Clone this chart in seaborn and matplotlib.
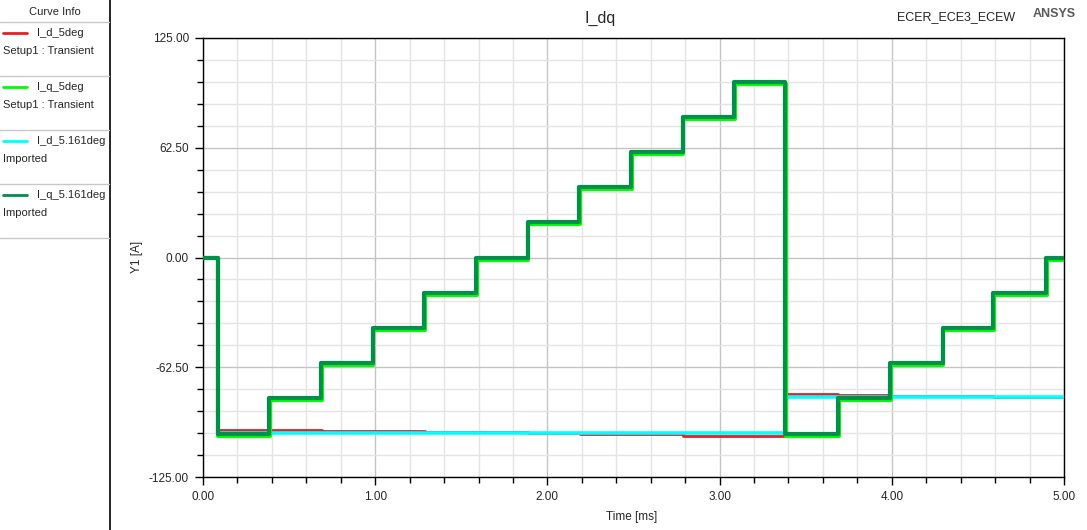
import matplotlib
matplotlib.use("Agg")
import matplotlib.pyplot as plt
from matplotlib.lines import Line2D
from matplotlib.ticker import MultipleLocator, FormatStrFormatter
import seaborn as sns
import pandas as pd

# ---------------- data (step breakpoints, steps-post) ----------------
t_iq_161 = [0.0, 0.085, 0.385, 0.685, 0.985, 1.285, 1.585, 1.885, 2.185, 2.485, 2.785, 3.085, 3.38, 3.69, 3.99, 4.295, 4.59, 4.895, 5.0]
v_iq_161 = [0.0, -100.6, -80.0, -60.0, -40.0, -20.0, 0.0, 20.0, 40.0, 60.0, 80.0, 100.0, -100.6, -80.0, -60.0, -40.0, -20.0, 0.0, 0.0]

t_iq_5 = [0.0, 0.09, 0.39, 0.69, 0.99, 1.29, 1.59, 1.89, 2.19, 2.49, 2.79, 3.09, 3.385, 3.695, 3.995, 4.30, 4.595, 4.90, 5.0]
v_iq_5 = [0.0, -101.8, -81.2, -61.2, -41.2, -21.2, -1.2, 18.8, 38.8, 58.8, 78.8, 98.8, -101.8, -81.2, -61.2, -41.2, -21.2, -1.2, -1.2]

t_id_5 = [0.0, 0.09, 0.69, 1.29, 1.89, 2.19, 2.79, 3.385, 3.69, 3.99, 4.59, 5.0]
v_id_5 = [0.0, -98.0, -98.6, -99.2, -99.8, -100.5, -101.8, -77.6, -78.2, -78.6, -79.3, -79.3]

t_id_161 = [0.0, 0.09, 3.385, 5.0]
v_id_161 = [0.0, -99.8, -79.4, -79.4]

names = ["I_d_5deg", "I_q_5deg", "I_d_5.161deg", "I_q_5.161deg"]
sources = ["Setup1 : Transient", "Setup1 : Transient", "Imported", "Imported"]
colors = ["#ED1C24", "#00FF00", "#00FFFF", "#00904A"]

x_ticks = [0.0, 1.0, 2.0, 3.0, 4.0, 5.0]
y_ticks = [-125.0, -62.5, 0.0, 62.5, 125.0]

# ---------------- style ----------------
sns.set_style("white")
plt.rcParams["font.family"] = ["Liberation Sans", "DejaVu Sans"]

W, H = 1087, 530
fig = plt.figure(figsize=(W / 100, H / 100), dpi=100)
ax = fig.add_axes([203 / W, (H - 477) / H, 861 / W, 439 / H])

series = [
    (t_id_5, v_id_5, colors[0], 2.0, 2),
    (t_id_161, v_id_161, colors[2], 2.6, 3),
    (t_iq_5, v_iq_5, colors[1], 3.0, 4),
    (t_iq_161, v_iq_161, colors[3], 3.0, 5),
]
for t, v, c, lw, z in series:
    df = pd.DataFrame({"t": t, "v": v})
    sns.lineplot(data=df, x="t", y="v", ax=ax, color=c, linewidth=lw,
                 drawstyle="steps-post", zorder=z, sort=False, estimator=None)

ax.set_xlim(0, 5)
ax.set_ylim(-125, 125)
ax.set_xticks(x_ticks)
ax.set_yticks(y_ticks)
ax.xaxis.set_minor_locator(MultipleLocator(0.2))
ax.yaxis.set_minor_locator(MultipleLocator(12.5))
ax.xaxis.set_major_formatter(FormatStrFormatter("%.2f"))
ax.yaxis.set_major_formatter(FormatStrFormatter("%.2f"))
ax.grid(which="major", color="#C4C4C4", linewidth=1.0, zorder=0)
ax.grid(which="minor", color="#E4E4E4", linewidth=1.0, zorder=0)
ax.set_axisbelow(True)
for s in ax.spines.values():
    s.set_color("black")
    s.set_linewidth(1.0)
ax.tick_params(which="major", direction="out", length=6, width=1, color="black",
               labelsize=8.5, pad=4, bottom=True, left=True)
ax.tick_params(which="minor", direction="out", length=4, width=1, color="black",
               bottom=True, left=True)
ax.set_xlabel("")
ax.set_ylabel("")
fig.text(632 / W, 1 - 517 / H, "Time [ms]", ha="center", va="center", fontsize=8.5)
fig.text(137 / W, 1 - 257 / H, "Y1 [A]", ha="center", va="center", fontsize=8.5, rotation=90)

# ---------------- header texts ----------------
fig.text(600 / W, 1 - 18 / H, "I_dq", ha="center", va="center", fontsize=11.5)
fig.text(956 / W, 1 - 17 / H, "ECER_ECE3_ECEW", ha="center", va="center", fontsize=9)
fig.text(1054 / W, 1 - 14 / H, "ANSYS", ha="center", va="center", fontsize=9,
         fontweight="bold", color="#5A5A5A")

# ---------------- curve info panel ----------------
fig.add_artist(Line2D([110 / W, 110 / W], [0, 1], transform=fig.transFigure,
                      color="black", linewidth=1.2))
fig.text(55 / W, 1 - 12 / H, "Curve Info", ha="center", va="center", fontsize=8)
seps = [22, 76, 130, 184, 238]
for yy in seps:
    fig.add_artist(Line2D([0, 109 / W], [1 - yy / H, 1 - yy / H], transform=fig.transFigure,
                          color="#C8C8C8", linewidth=1.0))
for i, (n, s, c) in enumerate(zip(names, sources, colors)):
    y0 = 33 + 54 * i
    fig.add_artist(Line2D([3 / W, 27 / W], [1 - y0 / H, 1 - y0 / H], transform=fig.transFigure,
                          color=c, linewidth=2.0))
    fig.text(37 / W, 1 - y0 / H, n, ha="left", va="center", fontsize=8)
    fig.text(3 / W, 1 - (y0 + 18) / H, s, ha="left", va="center", fontsize=8)

fig.savefig("out.png", dpi=100)
